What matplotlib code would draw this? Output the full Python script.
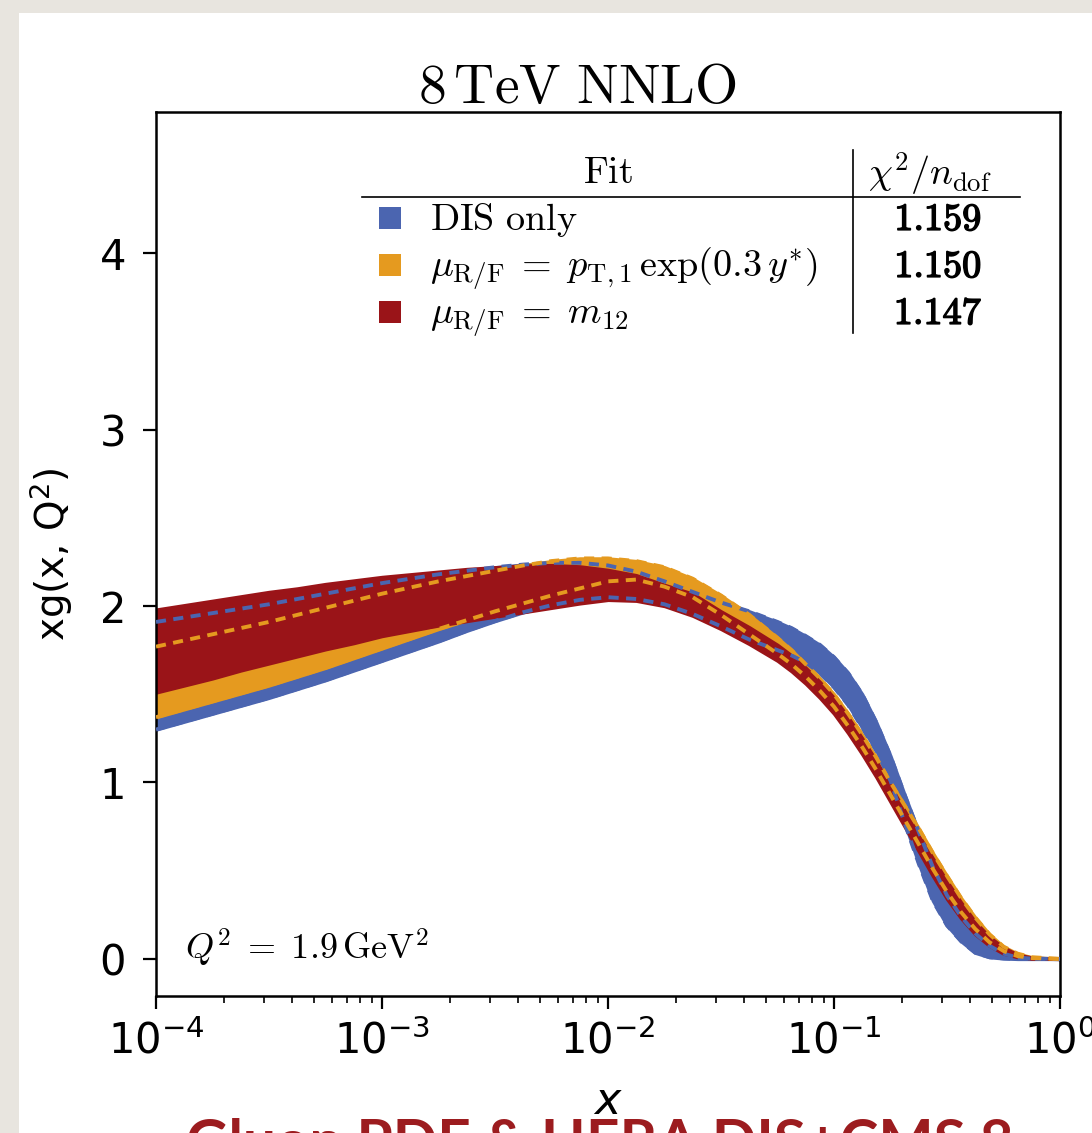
import numpy as np
import matplotlib
matplotlib.use('Agg')
import matplotlib.pyplot as plt
import matplotlib.patheffects as pe
from matplotlib.patches import Rectangle

plt.rcParams['font.family'] = ['DejaVu Sans']
plt.rcParams['mathtext.fontset'] = 'dejavusans'

# log10(x) の格子（急に落ちる所は細かく）
logx = [-4, -3.875, -3.75, -3.625, -3.5, -3.375, -3.25, -3.125, -3, -2.875, -2.75,
        -2.625, -2.5, -2.375, -2.25, -2.125, -2, -1.875, -1.75, -1.625, -1.5, -1.375,
        -1.25, -1.1875, -1.125, -1.0625, -1, -0.9375, -0.875, -0.8125, -0.75,
        -0.6875, -0.625, -0.5625, -0.5, -0.4375, -0.375, -0.3125, -0.25, -0.1875,
        -0.125, 0]

# DIS only
dis_lo = [1.30, 1.345, 1.39, 1.435, 1.48, 1.53, 1.58, 1.635, 1.69, 1.745, 1.80,
          1.86, 1.915, 1.965, 2.005, 2.035, 2.05, 2.04, 2.01, 1.955, 1.885, 1.81,
          1.75, 1.72, 1.68, 1.62, 1.54, 1.44, 1.31, 1.18, 1.01,
          0.77, 0.54, 0.33, 0.19, 0.10, 0.035, 0.01, 0.003, 0.0,
          0.0, 0.0]
dis_hi = [1.91, 1.935, 1.96, 1.985, 2.01, 2.04, 2.07, 2.10, 2.13, 2.155, 2.18,
          2.20, 2.22, 2.235, 2.245, 2.245, 2.23, 2.195, 2.14, 2.08, 2.02, 1.97,
          1.91, 1.875, 1.83, 1.78, 1.71, 1.62, 1.50, 1.34, 1.15,
          0.93, 0.72, 0.52, 0.36, 0.24, 0.145, 0.075, 0.03, 0.008,
          0.002, 0.0]
# mu = pT,1 exp(0.3 y*)
pt_lo = [1.37, 1.415, 1.46, 1.505, 1.55, 1.60, 1.65, 1.705, 1.76, 1.815, 1.87,
         1.92, 1.97, 2.015, 2.06, 2.10, 2.14, 2.15, 2.11, 2.05, 1.95, 1.84,
         1.73, 1.67, 1.60, 1.52, 1.43, 1.32, 1.20, 1.07, 0.93,
         0.79, 0.65, 0.51, 0.38, 0.265, 0.17, 0.095, 0.045, 0.016,
         0.005, 0.0]
pt_hi = [1.77, 1.805, 1.84, 1.875, 1.91, 1.95, 1.99, 2.03, 2.07, 2.105, 2.14,
         2.17, 2.20, 2.23, 2.255, 2.27, 2.27, 2.255, 2.22, 2.155, 2.06, 1.95,
         1.82, 1.75, 1.67, 1.59, 1.50, 1.39, 1.27, 1.14, 1.00,
         0.87, 0.74, 0.60, 0.47, 0.345, 0.235, 0.14, 0.07, 0.03,
         0.01, 0.0]
# mu = m12
m12_lo = [1.51, 1.55, 1.59, 1.635, 1.675, 1.715, 1.755, 1.79, 1.83, 1.86, 1.89,
          1.915, 1.94, 1.965, 1.99, 2.015, 2.035, 2.03, 2.00, 1.945, 1.87, 1.785,
          1.69, 1.63, 1.56, 1.48, 1.39, 1.28, 1.16, 1.03, 0.89,
          0.75, 0.61, 0.47, 0.34, 0.23, 0.14, 0.075, 0.03, 0.01,
          0.002, 0.0]
m12_hi = [1.98, 2.005, 2.03, 2.055, 2.08, 2.10, 2.125, 2.145, 2.165, 2.18, 2.195,
          2.21, 2.22, 2.23, 2.232, 2.225, 2.205, 2.175, 2.12, 2.07, 1.97, 1.88,
          1.78, 1.72, 1.65, 1.57, 1.48, 1.37, 1.25, 1.12, 0.98,
          0.84, 0.70, 0.57, 0.44, 0.32, 0.21, 0.125, 0.065, 0.025,
          0.008, 0.0]

fit_labels = [r'$\mathrm{DIS\ only}$',
              r'$\mu_{\mathrm{R/F}}\;=\;p_{\mathrm{T},1}\,\exp(0.3\,y^{*})$',
              r'$\mu_{\mathrm{R/F}}\;=\;m_{12}$']
chi2 = ['1.159', '1.150', '1.147']
colors = ['#4b65b0', '#e59a1f', '#9a1418']

xs = 10 ** np.array(logx)

fig = plt.figure(figsize=(10.92, 11.33), dpi=100, facecolor='#e8e5df')
# 白いパネル
fig.add_artist(Rectangle((19 / 1092, 0), 1, 1 - 13 / 1133, transform=fig.transFigure,
                         facecolor='white', edgecolor='none', zorder=-5))

ax = fig.add_axes([156 / 1092, 137 / 1133, 904 / 1092, 884 / 1133])

# 帯を描画（縁は同じ色の実線で少し太らせる）
ax.fill_between(xs, dis_lo, dis_hi, color=colors[0], lw=2.4, zorder=2)
ax.fill_between(xs, pt_lo, pt_hi, color=colors[1], lw=2.4, zorder=2)
ax.fill_between(xs, m12_lo, m12_hi, color=colors[2], lw=2.4, zorder=2)

# 縁の破線（DIS と pT）
dash = dict(lw=2.8, dashes=(2.6, 1.9), zorder=3)
ax.plot(xs, dis_lo, color=colors[0], **dash)
ax.plot(xs, dis_hi, color=colors[0], **dash)
ax.plot(xs, pt_lo, color=colors[1], **dash)
ax.plot(xs, pt_hi, color=colors[1], **dash)

ax.set_xscale('log')
ax.set_xlim(1e-4, 1)
ax.set_ylim(-0.21, 4.8)
ax.set_yticks([0, 1, 2, 3, 4])

for s in ax.spines.values():
    s.set_linewidth(1.8)
ax.tick_params(which='major', length=9.5, width=1.6, labelsize=30, direction='out')
ax.tick_params(which='minor', length=5, width=1.2, direction='out')
ax.tick_params(axis='y', pad=12)
ax.tick_params(axis='x', pad=8)

ax.set_xlabel(r'$x$', fontsize=32)
ax.xaxis.set_label_coords(0.5, -0.095)
ax.set_ylabel(r'xg(x, Q$^2$)', fontsize=28)
ax.yaxis.set_label_coords(-0.09, 0.5)

# タイトル
fig.text(577 / 1092, 1 - 103 / 1133, r'$8\,\mathrm{TeV\ NNLO}$', fontsize=40,
         ha='center', va='baseline', math_fontfamily='cm')

# 凡例の表
def axx(px):
    return (px - 156) / 904

def axy(py):
    return (996 - py) / 884

tsize = 27.5
ax.text(axx(608), axy(183), r'$\mathrm{Fit}$', transform=ax.transAxes, fontsize=tsize,
        ha='center', va='baseline', math_fontfamily='cm')
ax.text(axx(930), axy(185), r'$\chi^2/n_{\mathrm{dof}}$', transform=ax.transAxes,
        fontsize=tsize, ha='center', va='baseline', math_fontfamily='cm')
ax.plot([axx(362), axx(1020)], [axy(197), axy(197)], color='black', lw=1.2,
        transform=ax.transAxes, clip_on=False)
ax.plot([axx(853), axx(853)], [axy(150), axy(333)], color='black', lw=1.2,
        transform=ax.transAxes, clip_on=False)

bold = [pe.Stroke(linewidth=1.1, foreground='black'), pe.Normal()]
row_y = [218, 265, 312]
for lab, val, c, py in zip(fit_labels, chi2, colors, row_y):
    ax.add_patch(Rectangle((axx(379), axy(py + 11)), 22 / 904, 22 / 884,
                           transform=ax.transAxes, facecolor=c, edgecolor='none'))
    ax.text(axx(430), axy(py + 12), lab, transform=ax.transAxes, fontsize=tsize,
            ha='left', va='baseline', math_fontfamily='cm')
    ax.text(axx(938), axy(py + 12), r'$\mathbf{' + val + '}$', transform=ax.transAxes,
            fontsize=tsize, ha='center', va='baseline', math_fontfamily='cm',
            path_effects=bold)

ax.text(axx(185), axy(960), r'$Q^2\;=\;1.9\,\mathrm{GeV}^2$', transform=ax.transAxes,
        fontsize=26, ha='left', va='baseline', math_fontfamily='cm')

# 下の赤い見出し（画像の下端で切れている）
fig.text(186 / 1092, -28 / 1133, 'Gluon PDF & HERA DIS+CMS 8', color='#9c1c1f',
         fontsize=42, fontfamily='Lato', fontweight='bold', ha='left', va='baseline')

fig.savefig('out.png', dpi=100, facecolor=fig.get_facecolor())
